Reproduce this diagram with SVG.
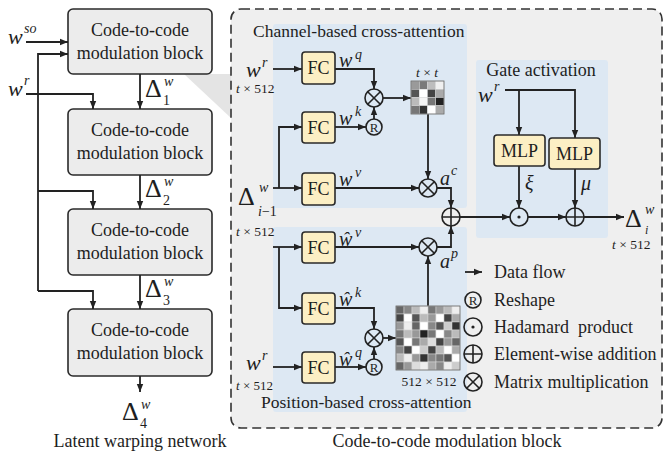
<svg xmlns="http://www.w3.org/2000/svg" xmlns:xlink="http://www.w3.org/1999/xlink" width="664" height="451" viewBox="0 0 664 451">
<style>
text{font-family:"Liberation Serif","DejaVu Serif",serif;fill:#1e1e1e}
.s18{font-size:18px}
.s17{font-size:17.5px}
.s13{font-size:13.5px}
.mi{font-style:italic}
.w{font-size:22px;font-style:italic}
.sup{font-size:14px;font-style:italic}
.sub{font-size:14px}
.dl{font-size:26px}
.c{text-anchor:middle}
.ar{fill:none;stroke:#222;stroke-width:1.8;marker-end:url(#ah)}
.blk{fill:#ececec;stroke:#2a2a2a;stroke-width:1.6}
.fc{fill:#fcefc4;stroke:#2a2a2a;stroke-width:1.6}
.reg{fill:#dde8f3}
.op{fill:none;stroke:#222;stroke-width:1.6}
.cell{stroke:#d8d8d8;stroke-width:0.5}
</style>
<defs>
<marker id="ah" viewBox="0 0 10 10" refX="10" refY="5" markerWidth="8" markerHeight="8" markerUnits="userSpaceOnUse" orient="auto"><path d="M0,1 L10,5 L0,9 z" fill="#222"/></marker>
<g id="otimes" class="op"><circle r="9"/><path d="M-6.3,-6.3 L6.3,6.3 M-6.3,6.3 L6.3,-6.3"/></g>
<g id="oplus" class="op"><circle r="9"/><path d="M-9,0 L9,0 M0,-9 L0,9"/></g>
<g id="odot"><circle r="9" class="op"/><circle r="1.6" fill="#222"/></g>
<g id="rsh"><circle r="8" class="op"/><text x="0" y="4.6" class="c" style="font-size:13px">R</text></g>
</defs>

<!-- Left: latent warping network -->
<polygon points="184,74 231,74 231,118" fill="#e4e4e4"/>
<g id="blk1"><rect x="68" y="9" width="144" height="65" rx="5" class="blk"/><text x="140" y="36" class="s18 c">Code-to-code</text><text x="140" y="59" class="s18 c">modulation block</text></g>
<g id="blk2"><rect x="68" y="109" width="144" height="66" rx="5" class="blk"/><text x="140" y="136" class="s18 c">Code-to-code</text><text x="140" y="159" class="s18 c">modulation block</text></g>
<g id="blk3"><rect x="68" y="209" width="144" height="66" rx="5" class="blk"/><text x="140" y="236" class="s18 c">Code-to-code</text><text x="140" y="259" class="s18 c">modulation block</text></g>
<g id="blk4"><rect x="68" y="309" width="144" height="67" rx="5" class="blk"/><text x="140" y="336" class="s18 c">Code-to-code</text><text x="140" y="359" class="s18 c">modulation block</text></g>

<g id="left-labels">
<text x="8" y="44" class="w">w</text><text x="24" y="33" class="sup">so</text>
<text x="8" y="96" class="w">w</text><text x="24" y="85" class="sup">r</text>
<text x="145" y="97" class="dl">Δ</text><text x="164" y="86" class="sup">w</text><text x="163" y="105" class="sub">1</text>
<text x="145" y="197" class="dl">Δ</text><text x="164" y="186" class="sup">w</text><text x="163" y="205" class="sub">2</text>
<text x="145" y="297" class="dl">Δ</text><text x="164" y="286" class="sup">w</text><text x="163" y="305" class="sub">3</text>
<text x="122" y="420" class="dl">Δ</text><text x="141" y="409" class="sup">w</text><text x="140" y="428" class="sub">4</text>
<text x="140" y="447" class="s18 c">Latent warping network</text>
</g>

<!-- Right: modulation block detail -->
<rect x="231" y="9" width="431" height="419" rx="10" fill="#efefef" stroke="#333" stroke-width="1.6" stroke-dasharray="9 5"/>
<rect x="273" y="24" width="194" height="184" rx="3" class="reg"/>
<rect x="273" y="227" width="194" height="185" rx="3" class="reg"/>
<rect x="476" y="60" width="132" height="178" rx="3" class="reg"/>
<text x="253" y="37" class="s17">Channel-based cross-attention</text>
<text x="261" y="408" class="s17">Position-based cross-attention</text>
<text x="541" y="76" class="s18 c">Gate activation</text>
<text x="447" y="447" class="s18 c">Code-to-code modulation block</text>

<g id="connectors">
<path d="M26,42 L68,42" class="ar"/>
<path d="M26,94 L93,94 L93,109" class="ar"/>
<path d="M38,291 L38,54 L68,54" class="ar"/>
<path d="M38,191 L93,191 L93,209" class="ar"/>
<path d="M38,291 L93,291 L93,309" class="ar"/>
<path d="M140,74 L140,109" class="ar"/>
<path d="M140,175 L140,209" class="ar"/>
<path d="M140,275 L140,309" class="ar"/>
<path d="M140,376 L140,392" class="ar"/>

<path d="M273,69 L302,69" class="ar"/>
<path d="M335,69 L374,69 L374,89" class="ar"/>
<path d="M335,127 L366,127" class="ar"/>
<path d="M374,119 L374,107" class="ar"/>
<path d="M383,98 L411,98" class="ar"/>
<path d="M428,114 L428,179" class="ar"/>
<path d="M273,188 L302,188" class="ar"/>
<path d="M279,188 L279,127 L302,127" class="ar"/>
<path d="M335,188 L419,188" class="ar"/>
<path d="M437,188 L451,188 L451,208" class="ar"/>
<path d="M460,217 L510,217" class="ar"/>
<path d="M528,217 L566,217" class="ar"/>
<path d="M584,217 L624,217" class="ar"/>
<path d="M505,90 L575,90 L575,138" class="ar"/>
<path d="M519,90 L519,135" class="ar"/>
<path d="M519,166 L519,208" class="ar"/>
<path d="M575,169 L575,208" class="ar"/>

<path d="M273,247 L302,247" class="ar"/>
<path d="M279,247 L279,308 L302,308" class="ar"/>
<path d="M335,247 L419,247" class="ar"/>
<path d="M437,247 L451,247 L451,226" class="ar"/>
<path d="M335,308 L374,308 L374,329" class="ar"/>
<path d="M273,367 L302,367" class="ar"/>
<path d="M335,367 L366,367" class="ar"/>
<path d="M374,359 L374,347" class="ar"/>
<path d="M383,338 L396,338" class="ar"/>
<path d="M428,306 L428,256" class="ar"/>

<path d="M465,272 L482,272" class="ar"/>
</g>

<g id="fc1"><rect x="302" y="52" width="33" height="32" rx="3" class="fc"/><text x="318.5" y="74" class="s18 c">FC</text></g>
<g id="fc2"><rect x="302" y="112" width="33" height="31" rx="3" class="fc"/><text x="318.5" y="134" class="s18 c">FC</text></g>
<g id="fc3"><rect x="302" y="173" width="33" height="32" rx="3" class="fc"/><text x="318.5" y="195" class="s18 c">FC</text></g>
<g id="fc4"><rect x="302" y="232" width="33" height="31" rx="3" class="fc"/><text x="318.5" y="254" class="s18 c">FC</text></g>
<g id="fc5"><rect x="302" y="293" width="33" height="31" rx="3" class="fc"/><text x="318.5" y="315" class="s18 c">FC</text></g>
<g id="fc6"><rect x="302" y="352" width="33" height="31" rx="3" class="fc"/><text x="318.5" y="374" class="s18 c">FC</text></g>
<g id="mlp1"><rect x="494" y="135" width="51" height="31" rx="3" class="fc"/><text x="519.5" y="157" class="s18 c">MLP</text></g>
<g id="mlp2"><rect x="549" y="138" width="51" height="31" rx="3" class="fc"/><text x="574.5" y="160" class="s18 c">MLP</text></g>

<g id="ops">
<use xlink:href="#otimes" x="374" y="98"/>
<use xlink:href="#rsh" x="374" y="127"/>
<use xlink:href="#otimes" x="428" y="188"/>
<use xlink:href="#oplus" x="451" y="217"/>
<use xlink:href="#odot" x="519" y="217"/>
<use xlink:href="#oplus" x="575" y="217"/>
<use xlink:href="#otimes" x="428" y="247"/>
<use xlink:href="#otimes" x="374" y="338"/>
<use xlink:href="#rsh" x="374" y="367"/>
</g>

<g id="matrix-tt">
<rect x="411" y="81" width="8.25" height="8.25" fill="#9a9a9a" class="cell"/><rect x="419.25" y="81" width="8.25" height="8.25" fill="#7a7a7a" class="cell"/><rect x="427.5" y="81" width="8.25" height="8.25" fill="#bdbdbd" class="cell"/><rect x="435.75" y="81" width="8.25" height="8.25" fill="#f0f0f0" class="cell"/>
<rect x="411" y="89.25" width="8.25" height="8.25" fill="#555" class="cell"/><rect x="419.25" y="89.25" width="8.25" height="8.25" fill="#fff" class="cell"/><rect x="427.5" y="89.25" width="8.25" height="8.25" fill="#444" class="cell"/><rect x="435.75" y="89.25" width="8.25" height="8.25" fill="#aaa" class="cell"/>
<rect x="411" y="97.5" width="8.25" height="8.25" fill="#bbb" class="cell"/><rect x="419.25" y="97.5" width="8.25" height="8.25" fill="#f5f5f5" class="cell"/><rect x="427.5" y="97.5" width="8.25" height="8.25" fill="#777" class="cell"/><rect x="435.75" y="97.5" width="8.25" height="8.25" fill="#222" class="cell"/>
<rect x="411" y="105.75" width="8.25" height="8.25" fill="#777" class="cell"/><rect x="419.25" y="105.75" width="8.25" height="8.25" fill="#333" class="cell"/><rect x="427.5" y="105.75" width="8.25" height="8.25" fill="#fff" class="cell"/><rect x="435.75" y="105.75" width="8.25" height="8.25" fill="#aaa" class="cell"/>
<rect x="411" y="81" width="33" height="33" fill="none" stroke="#666" stroke-width="0.8"/>
</g>

<g id="matrix-pp">
<rect x="396" y="306" width="8" height="8" fill="#666" class="cell"/><rect x="404" y="306" width="8" height="8" fill="#888" class="cell"/><rect x="412" y="306" width="8" height="8" fill="#bbb" class="cell"/><rect x="420" y="306" width="8" height="8" fill="#eee" class="cell"/><rect x="428" y="306" width="8" height="8" fill="#777" class="cell"/><rect x="436" y="306" width="8" height="8" fill="#999" class="cell"/><rect x="444" y="306" width="8" height="8" fill="#bbb" class="cell"/><rect x="452" y="306" width="8" height="8" fill="#eee" class="cell"/>
<rect x="396" y="314" width="8" height="8" fill="#444" class="cell"/><rect x="404" y="314" width="8" height="8" fill="#fff" class="cell"/><rect x="412" y="314" width="8" height="8" fill="#555" class="cell"/><rect x="420" y="314" width="8" height="8" fill="#bbb" class="cell"/><rect x="428" y="314" width="8" height="8" fill="#999" class="cell"/><rect x="436" y="314" width="8" height="8" fill="#fff" class="cell"/><rect x="444" y="314" width="8" height="8" fill="#444" class="cell"/><rect x="452" y="314" width="8" height="8" fill="#aaa" class="cell"/>
<rect x="396" y="322" width="8" height="8" fill="#999" class="cell"/><rect x="404" y="322" width="8" height="8" fill="#eee" class="cell"/><rect x="412" y="322" width="8" height="8" fill="#666" class="cell"/><rect x="420" y="322" width="8" height="8" fill="#fff" class="cell"/><rect x="428" y="322" width="8" height="8" fill="#888" class="cell"/><rect x="436" y="322" width="8" height="8" fill="#555" class="cell"/><rect x="444" y="322" width="8" height="8" fill="#ccc" class="cell"/><rect x="452" y="322" width="8" height="8" fill="#333" class="cell"/>
<rect x="396" y="330" width="8" height="8" fill="#777" class="cell"/><rect x="404" y="330" width="8" height="8" fill="#bbb" class="cell"/><rect x="412" y="330" width="8" height="8" fill="#999" class="cell"/><rect x="420" y="330" width="8" height="8" fill="#222" class="cell"/><rect x="428" y="330" width="8" height="8" fill="#777" class="cell"/><rect x="436" y="330" width="8" height="8" fill="#fff" class="cell"/><rect x="444" y="330" width="8" height="8" fill="#888" class="cell"/><rect x="452" y="330" width="8" height="8" fill="#bbb" class="cell"/>
<rect x="396" y="338" width="8" height="8" fill="#555" class="cell"/><rect x="404" y="338" width="8" height="8" fill="#fff" class="cell"/><rect x="412" y="338" width="8" height="8" fill="#777" class="cell"/><rect x="420" y="338" width="8" height="8" fill="#aaa" class="cell"/><rect x="428" y="338" width="8" height="8" fill="#ddd" class="cell"/><rect x="436" y="338" width="8" height="8" fill="#444" class="cell"/><rect x="444" y="338" width="8" height="8" fill="#999" class="cell"/><rect x="452" y="338" width="8" height="8" fill="#666" class="cell"/>
<rect x="396" y="346" width="8" height="8" fill="#888" class="cell"/><rect x="404" y="346" width="8" height="8" fill="#444" class="cell"/><rect x="412" y="346" width="8" height="8" fill="#fff" class="cell"/><rect x="420" y="346" width="8" height="8" fill="#ccc" class="cell"/><rect x="428" y="346" width="8" height="8" fill="#444" class="cell"/><rect x="436" y="346" width="8" height="8" fill="#bbb" class="cell"/><rect x="444" y="346" width="8" height="8" fill="#fff" class="cell"/><rect x="452" y="346" width="8" height="8" fill="#aaa" class="cell"/>
<rect x="396" y="354" width="8" height="8" fill="#bbb" class="cell"/><rect x="404" y="354" width="8" height="8" fill="#eee" class="cell"/><rect x="412" y="354" width="8" height="8" fill="#999" class="cell"/><rect x="420" y="354" width="8" height="8" fill="#333" class="cell"/><rect x="428" y="354" width="8" height="8" fill="#888" class="cell"/><rect x="436" y="354" width="8" height="8" fill="#777" class="cell"/><rect x="444" y="354" width="8" height="8" fill="#555" class="cell"/><rect x="452" y="354" width="8" height="8" fill="#fff" class="cell"/>
<rect x="396" y="362" width="8" height="8" fill="#666" class="cell"/><rect x="404" y="362" width="8" height="8" fill="#999" class="cell"/><rect x="412" y="362" width="8" height="8" fill="#ddd" class="cell"/><rect x="420" y="362" width="8" height="8" fill="#eee" class="cell"/><rect x="428" y="362" width="8" height="8" fill="#aaa" class="cell"/><rect x="436" y="362" width="8" height="8" fill="#888" class="cell"/><rect x="444" y="362" width="8" height="8" fill="#eee" class="cell"/><rect x="452" y="362" width="8" height="8" fill="#ccc" class="cell"/>
<rect x="396" y="306" width="64" height="64" fill="none" stroke="#666" stroke-width="0.8"/>
</g>

<g id="labels">
<text x="246" y="77" class="w">w</text><text x="262" y="67" class="sup">r</text>
<text x="236" y="93" class="s13"><tspan class="mi">t</tspan> × 512</text>
<text x="339" y="67" class="w" style="font-size:20px">w</text><text x="355" y="59" class="sup">q</text>
<text x="339" y="125" class="w" style="font-size:20px">w</text><text x="355" y="116" class="sup">k</text>
<text x="339" y="186" class="w" style="font-size:20px">w</text><text x="355" y="177" class="sup">v</text>
<text x="427" y="77" class="s13 c"><tspan class="mi">t</tspan> × <tspan class="mi">t</tspan></text>
<text x="238" y="205" class="dl">Δ</text><text x="259" y="192" class="sup">w</text><text x="258" y="216" class="sub"><tspan class="mi">i</tspan>−1</text>
<text x="236" y="236" class="s13"><tspan class="mi">t</tspan> × 512</text>
<text x="440" y="185" class="w" style="font-size:20px">a</text><text x="451" y="175" class="sup">c</text>
<text x="440" y="268" class="w" style="font-size:20px">a</text><text x="451" y="258" class="sup">p</text>
<text x="478" y="102" class="w">w</text><text x="494" y="91" class="sup">r</text>
<text x="525" y="190" class="w" style="font-size:20px">ξ</text>
<text x="581" y="190" class="w" style="font-size:20px">μ</text>
<text x="625" y="227" class="dl">Δ</text><text x="645" y="214" class="sup">w</text><text x="645" y="234" class="sup" style="font-size:12px">i</text>
<text x="612" y="249" class="s13"><tspan class="mi">t</tspan> × 512</text>
<text x="339" y="246" class="w" style="font-size:20px">ŵ</text><text x="355" y="237" class="sup">v</text>
<text x="339" y="306" class="w" style="font-size:20px">ŵ</text><text x="355" y="297" class="sup">k</text>
<text x="339" y="366" class="w" style="font-size:20px">ŵ</text><text x="355" y="357" class="sup">q</text>
<text x="246" y="370" class="w">w</text><text x="262" y="360" class="sup">r</text>
<text x="236" y="390" class="s13" style="font-size:13px"><tspan class="mi">t</tspan> × 512</text>
<text x="429" y="386" class="s13 c">512 × 512</text>
</g>

<g id="legend">
<text x="494" y="278" class="s18">Data flow</text>
<use xlink:href="#rsh" x="473" y="300"/>
<text x="494" y="306" class="s18">Reshape</text>
<use xlink:href="#odot" x="473" y="327"/>
<text x="494" y="333" class="s18" style="white-space:pre">Hadamard  product</text>
<use xlink:href="#oplus" x="473" y="354"/>
<text x="494" y="360" class="s18">Element-wise addition</text>
<use xlink:href="#otimes" x="473" y="382"/>
<text x="494" y="388" class="s18">Matrix multiplication</text>
</g>
</svg>
